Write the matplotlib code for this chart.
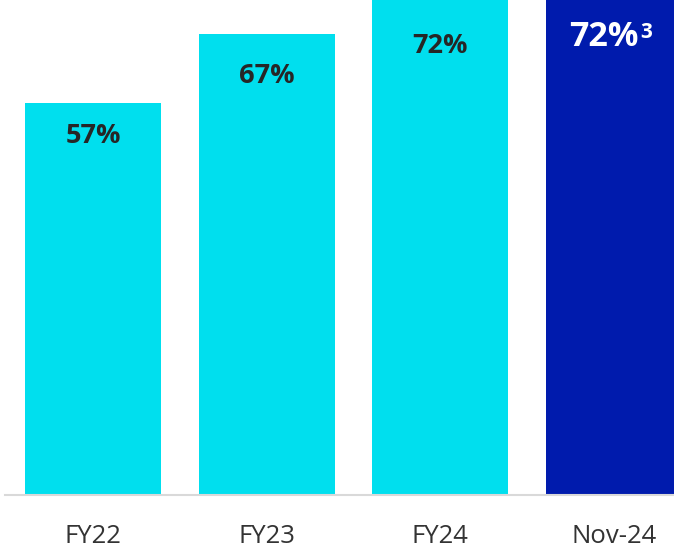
import matplotlib
matplotlib.use('Agg')
from matplotlib import pyplot as plt

categories = ['FY22', 'FY23', 'FY24', 'Nov-24']
values = [57, 67, 72, 72]
labels = ['57%', '67%', '72%', '72%']
highlight = [False, False, False, True]

CYAN = '#00DFEE'
NAVY = '#001BAD'

plt.rcParams['font.family'] = ['Open Sans', 'DejaVu Sans']

fig = plt.figure(figsize=(6.74, 5.48), dpi=100)
ax = fig.add_axes([5 / 674, 53 / 548, 669 / 674, 495 / 548])

x = list(range(len(categories)))
colors = [NAVY if h else CYAN for h in highlight]
ax.bar(x, values, width=0.783, color=colors, zorder=2)

# how far below the bar top each label sits, in pixels
label_drop = [33, 42, 46, 37]
for i in range(len(values)):
    dy = -label_drop[i] * 0.72
    if highlight[i]:
        ax.annotate(labels[i], (x[i], values[i]), xytext=(-7.5, dy),
                    textcoords='offset points', ha='center', va='center',
                    fontsize=24.5, fontweight='bold', color='white')
        ax.annotate('3', (x[i], values[i]), xytext=(18.5, dy + 3),
                    textcoords='offset points', ha='left', va='center',
                    fontsize=15, fontweight='bold', color='white')
    else:
        ax.annotate(labels[i], (x[i], values[i]), xytext=(0, dy),
                    textcoords='offset points', ha='center', va='center',
                    fontsize=19.5, fontweight='bold', color='#262626')

ax.set_xlim(-0.507, 3.345)
ax.set_ylim(0, 72.0)
ax.set_xticks(x)
ax.set_xticklabels(categories, fontsize=18.5, color='#333333')
ax.tick_params(axis='x', length=0, pad=21)
ax.set_yticks([])
for side in ['top', 'right', 'left']:
    ax.spines[side].set_visible(False)
ax.spines['bottom'].set_color('#D9D9D9')
ax.spines['bottom'].set_linewidth(1.5)
ax.spines['bottom'].set_zorder(3)

fig.savefig('out.png', dpi=100)
